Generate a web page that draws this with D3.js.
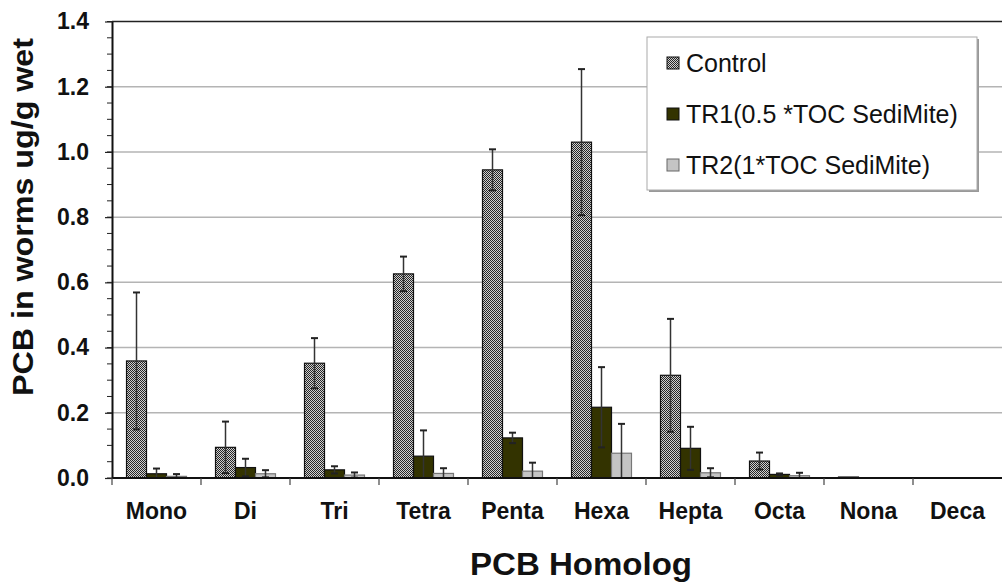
<!DOCTYPE html>
<meta charset="utf-8">
<style>
html, body { margin: 0; padding: 0; background: #fff; }
svg { display: block; font-family: Arial, "Liberation Sans", sans-serif; }
</style>
<body>
<script src="https://d3js.org/d3.v7.min.js"></script>
<script>

var width = 1002,
    height = 584;

// data
var homologs = ["Mono","Di","Tri","Tetra","Penta","Hexa","Hepta","Octa","Nona","Deca"];
var seriesNames = ["Control","TR1(0.5 *TOC SediMite)","TR2(1*TOC SediMite)"];
var control    = [0.359, 0.094, 0.352, 0.626, 0.945, 1.030, 0.315, 0.052, 0.003, 0.0];
var controlErr = [0.210, 0.079, 0.077, 0.053, 0.063, 0.224, 0.173, 0.026, 0.0,   0.0];
var tr1        = [0.013, 0.032, 0.025, 0.067, 0.123, 0.217, 0.091, 0.011, 0.0,   0.0];
var tr1Err     = [0.016, 0.027, 0.011, 0.079, 0.016, 0.123, 0.066, 0.003, 0.0,   0.0];
var tr2        = [0.005, 0.013, 0.009, 0.014, 0.021, 0.076, 0.016, 0.007, 0.0,   0.0];
var tr2Err     = [0.007, 0.011, 0.008, 0.016, 0.026, 0.090, 0.014, 0.009, 0.0,   0.0];
var yTicks = [0, 0.2, 0.4, 0.6, 0.8, 1.0, 1.2, 1.4];

var margin = {left: 112, right: 0, top: 21.5, bottom: 106};

var svg = d3.select("body").append("svg")
  .attr("width", width)
  .attr("height", height);

// checkered fill of the control bars
var defs = svg.append("defs");
var pat = defs.append("pattern")
  .attr("id", "hatch")
  .attr("patternUnits", "userSpaceOnUse")
  .attr("width", 4).attr("height", 4);
pat.append("rect").attr("width", 4).attr("height", 4).attr("fill", "#d0d0d0");
[[0,0],[2,0],[1,1],[3,1],[0,2],[2,2],[3,3],[1,3]].forEach(function(p){
  pat.append("rect").attr("x", p[0]).attr("y", p[1]).attr("width", 1).attr("height", 1).attr("fill", "#262626");
});

var x = d3.scaleBand()
  .domain(homologs)
  .range([margin.left, width - margin.right])
  .paddingInner(0).paddingOuter(0);

var groupW = x.bandwidth() * 0.674;
var xs = d3.scaleBand()
  .domain([0,1,2])
  .range([0, groupW]);

var y = d3.scaleLinear()
  .domain([0, 1.4])
  .range([height - margin.bottom, margin.top]);

// grid
svg.append("g")
  .selectAll("line")
  .data(yTicks.slice(1, -1))
  .enter().append("line")
  .attr("x1", margin.left).attr("x2", width)
  .attr("y1", function(d){ return y(d); })
  .attr("y2", function(d){ return y(d); })
  .attr("stroke", "#b4b4b4")
  .attr("stroke-width", 1.5);

// top border
svg.append("line")
  .attr("x1", margin.left).attr("x2", width)
  .attr("y1", y(1.4)).attr("y2", y(1.4))
  .attr("stroke", "#222").attr("stroke-width", 1.5);

var series = [
  {vals: control, err: controlErr, fill: "url(#hatch)", stroke: "#111"},
  {vals: tr1, err: tr1Err, fill: "#333300", stroke: "#111"},
  {vals: tr2, err: tr2Err, fill: "#c4c4c4", stroke: "#777"}
];

var off = (x.bandwidth() - groupW) / 2;

series.forEach(function(s, si){
  var g = svg.append("g");
  g.selectAll("rect")
    .data(homologs)
    .enter().append("rect")
    .attr("x", function(d){ return x(d) + off + xs(si); })
    .attr("width", xs.bandwidth())
    .attr("y", function(d, i){ return y(s.vals[i]); })
    .attr("height", function(d, i){ return y(0) - y(s.vals[i]); })
    .attr("fill", s.fill)
    .attr("stroke", s.stroke)
    .attr("stroke-width", 1.2);

  var eb = g.selectAll("g.err")
    .data(homologs.filter(function(d, i){ return s.err[i] > 0; }))
    .enter().append("g").attr("class", "err");
  function cx(d){ return x(d) + off + xs(si) + xs.bandwidth() / 2; }
  function idx(d){ return homologs.indexOf(d); }
  eb.append("line")
    .attr("x1", cx).attr("x2", cx)
    .attr("y1", function(d){ return y(Math.max(0, s.vals[idx(d)] - s.err[idx(d)])); })
    .attr("y2", function(d){ return y(s.vals[idx(d)] + s.err[idx(d)]); })
    .attr("stroke", "#333").attr("stroke-width", 1.5);
  [1, -1].forEach(function(sign){
    eb.append("line")
      .attr("x1", function(d){ return cx(d) - 3.5; })
      .attr("x2", function(d){ return cx(d) + 3.5; })
      .attr("y1", function(d){ return y(Math.max(0, s.vals[idx(d)] + sign * s.err[idx(d)])); })
      .attr("y2", function(d){ return y(Math.max(0, s.vals[idx(d)] + sign * s.err[idx(d)])); })
      .attr("stroke", "#222").attr("stroke-width", 2);
  });
});

// y axis
var yAxis = d3.axisLeft(y)
  .tickValues(yTicks)
  .tickFormat(d3.format(".1f"))
  .tickSizeInner(7).tickSizeOuter(0).tickPadding(16);
var ya = svg.append("g")
  .attr("transform", "translate(" + margin.left + ",0)")
  .call(yAxis);
ya.select(".domain").attr("stroke", "#111").attr("stroke-width", 2);
ya.selectAll(".tick line").attr("stroke", "#222").attr("stroke-width", 1.2);
ya.selectAll(".tick text")
  .attr("font-size", 23).attr("font-weight", "bold").attr("fill", "#111")
  .attr("font-family", "Arial, 'Liberation Sans', sans-serif");

svg.append("g")
  .selectAll("line")
  .data(d3.range(0, 1.4001, 0.05))
  .enter().append("line")
  .attr("x1", margin.left - 5).attr("x2", margin.left)
  .attr("y1", function(d){ return y(d); })
  .attr("y2", function(d){ return y(d); })
  .attr("stroke", "#222").attr("stroke-width", 1);

// x axis
svg.append("line")
  .attr("x1", margin.left).attr("x2", width)
  .attr("y1", y(0)).attr("y2", y(0))
  .attr("stroke", "#111").attr("stroke-width", 2);

svg.append("g")
  .selectAll("line")
  .data(homologs)
  .enter().append("line")
  .attr("x1", function(d){ return x(d); })
  .attr("x2", function(d){ return x(d); })
  .attr("y1", y(0)).attr("y2", y(0) + 7)
  .attr("stroke", "#444").attr("stroke-width", 1.2);

svg.append("g")
  .selectAll("text")
  .data(homologs)
  .enter().append("text")
  .attr("x", function(d){ return x(d) + x.bandwidth() / 2; })
  .attr("y", 519)
  .attr("text-anchor", "middle")
  .attr("font-size", 23).attr("font-weight", "bold").attr("fill", "#111")
  .text(function(d){ return d; });

// axis titles
svg.append("text")
  .attr("x", 581).attr("y", 575)
  .attr("text-anchor", "middle")
  .attr("font-size", 31).attr("font-weight", "bold").attr("fill", "#111")
  .attr("textLength", 222).attr("lengthAdjust", "spacingAndGlyphs")
  .text("PCB Homolog");

svg.append("text")
  .attr("transform", "translate(33,217) rotate(-90)")
  .attr("text-anchor", "middle")
  .attr("font-size", 29).attr("font-weight", "bold").attr("fill", "#111")
  .attr("textLength", 358).attr("lengthAdjust", "spacingAndGlyphs")
  .text("PCB in worms ug/g wet");

// legend
var lg = svg.append("g").attr("transform", "translate(647,37)");
lg.append("rect").attr("x", 2).attr("y", 2).attr("width", 330).attr("height", 153).attr("fill", "#999");
lg.append("rect").attr("width", 330).attr("height", 153).attr("fill", "#fff").attr("stroke", "#aaa").attr("stroke-width", 1);
var swatches = ["url(#hatch)", "#333300", "#c4c4c4"];
var entry = lg.selectAll("g.entry")
  .data(seriesNames)
  .enter().append("g").attr("class", "entry")
  .attr("transform", function(d, i){ return "translate(20," + (26 + i * 51) + ")"; });
entry.append("rect")
  .attr("x", 0).attr("y", -6).attr("width", 12).attr("height", 12)
  .attr("fill", function(d, i){ return swatches[i]; })
  .attr("stroke", function(d, i){ return i === 2 ? "#666" : "#111"; });
entry.append("text")
  .attr("x", 19).attr("y", 9)
  .attr("font-size", 25).attr("fill", "#111")
  .text(function(d){ return d; });

</script>
</body>
